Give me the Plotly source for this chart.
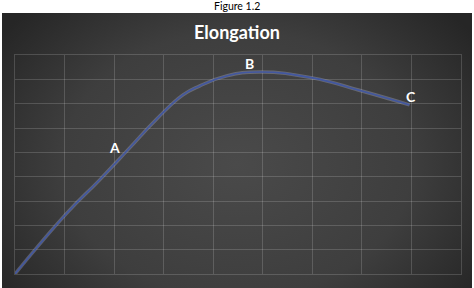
import base64
import plotly.graph_objects as go

# ---- data (grid units) ----
curve_x = [0, 1.05, 1.7, 2.3, 2.85, 3.39, 3.73, 4.27, 4.94, 6.0, 7.0, 7.96]
curve_y = [0, 2.51, 3.85, 5.15, 6.35, 7.36, 7.73, 8.14, 8.30, 8.06, 7.52, 6.95]
label_text = ["O", "A", "B", "C"]
label_x = [-0.02, 2.0, 4.74, 8.0]
label_y = [0.33, 5.18, 8.67, 7.28]
title_text = "Elongation"
caption_text = "Figure 1.2"

W, H = 474, 288
L, R, T, B = 15, 13, 55, 14
PW, PH = W - L - R, H - T - B


def px_to_paper_x(px):
    return (px - L) / PW


def py_to_paper_y(py):
    return (H - B - py) / PH


svg = (
    '<svg xmlns="http://www.w3.org/2000/svg" width="470" height="275" '
    'viewBox="0 0 470 275" preserveAspectRatio="none">'
    '<defs><radialGradient id="g" cx="0.5" cy="0.55" r="0.62" '
    'gradientTransform="translate(0.5 0.55) scale(1 1.3) translate(-0.5 -0.55)">'
    '<stop offset="0" stop-color="#4a4a4a"/>'
    '<stop offset="0.6" stop-color="#3e3e3e"/>'
    '<stop offset="1" stop-color="#262626"/>'
    '</radialGradient></defs>'
    '<rect x="0" y="0" width="470" height="275" fill="url(#g)"/>'
    '</svg>'
)
src = "data:image/svg+xml;base64," + base64.b64encode(svg.encode()).decode()

fig = go.Figure()
fig.add_trace(go.Scatter(
    x=curve_x, y=curve_y, mode="lines",
    line=dict(color="rgba(175,180,205,0.35)", width=3.4, shape="spline",
              smoothing=1.3), hoverinfo="skip", showlegend=False))
fig.add_trace(go.Scatter(
    x=curve_x, y=curve_y, mode="lines",
    line=dict(color="#4257a0", width=1.6, shape="spline", smoothing=1.3),
    showlegend=False))

for t, x, y in zip(label_text, label_x, label_y):
    fig.add_annotation(x=x, y=y, text="<b>%s</b>" % t, showarrow=False,
                       xanchor="center", yanchor="middle",
                       font=dict(family="Lato, Open Sans, sans-serif", size=14,
                                 color="white"))

fig.add_annotation(xref="paper", yref="paper", x=px_to_paper_x(237),
                   y=py_to_paper_y(6), text=caption_text, showarrow=False,
                   xanchor="center", yanchor="middle",
                   font=dict(family="Lato, sans-serif", size=10.5, color="black"))
fig.add_annotation(xref="paper", yref="paper", x=px_to_paper_x(237),
                   y=py_to_paper_y(32), text="<b>%s</b>" % title_text,
                   showarrow=False, xanchor="center", yanchor="middle",
                   font=dict(family="Lato, Open Sans, sans-serif", size=18,
                             color="white"))

grid = "rgba(255,255,255,0.16)"
axis_common = dict(range=[0, 9], dtick=1, tick0=0, showgrid=True,
                   gridcolor=grid, gridwidth=1, zeroline=False,
                   showticklabels=False, ticks="", showline=True,
                   linecolor=grid, linewidth=1, mirror=True, fixedrange=True)

fig.update_layout(
    width=W, height=H,
    margin=dict(l=L, r=R, t=T, b=B),
    paper_bgcolor="white",
    plot_bgcolor="rgba(0,0,0,0)",
    xaxis=axis_common,
    yaxis=axis_common,
    images=[dict(source=src, xref="paper", yref="paper",
                 x=px_to_paper_x(2), y=py_to_paper_y(13),
                 sizex=(472 - 2) / PW, sizey=(288 - 13) / PH,
                 xanchor="left", yanchor="top", sizing="stretch",
                 layer="below")],
)

fig.write_html("out.html")
